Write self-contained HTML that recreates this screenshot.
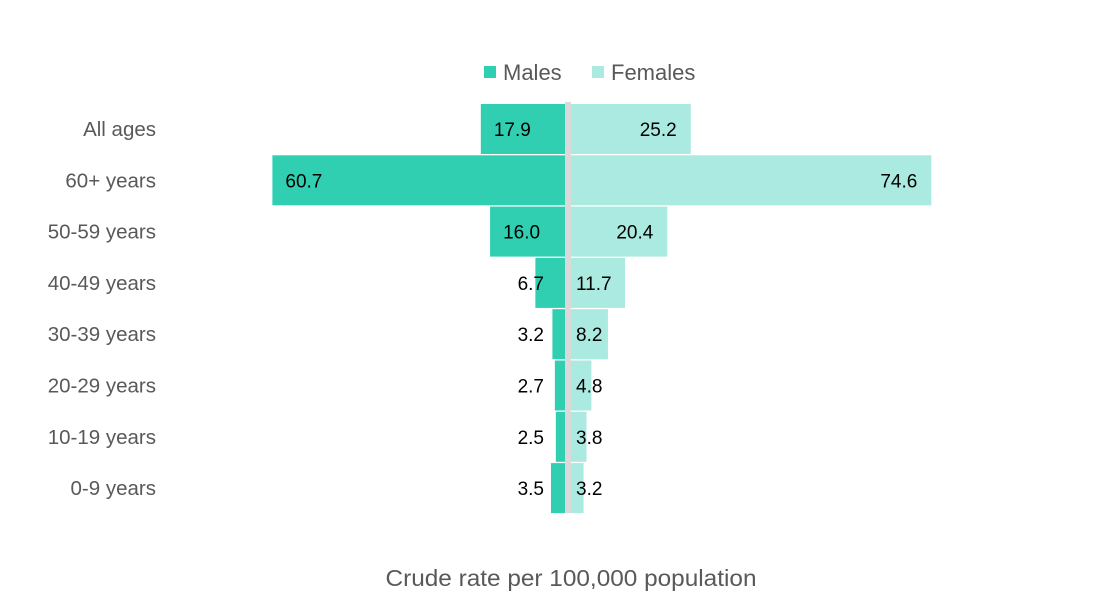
<!DOCTYPE html>
<html><head><meta charset="utf-8"><style>
body{margin:0;background:#fff;}
svg{display:block;font-family:"Liberation Sans",Calibri,sans-serif;}
</style></head><body>
<svg id="chart" width="1108" height="607" viewBox="0 0 1108 607">
<g>
<rect x="484" y="66" width="12" height="12" fill="#30cfb1"/>
<text x="503" y="80" font-size="22" fill="#595959">Males</text>
<rect x="592" y="66" width="12" height="12" fill="#abeae0"/>
<text x="611" y="80" font-size="22" fill="#595959">Females</text>
</g>
<g id="bars"></g>
<text x="571" y="586" text-anchor="middle" font-size="23" textLength="371" lengthAdjust="spacingAndGlyphs" fill="#595959">Crude rate per 100,000 population</text>
</svg>
<script>
const categories=["All ages","60+ years","50-59 years","40-49 years","30-39 years","20-29 years","10-19 years","0-9 years"];
const males=[17.9,60.7,16.0,6.7,3.2,2.7,2.5,3.5];
const females=[25.2,74.6,20.4,11.7,8.2,4.8,3.8,3.2];
const cx=568, k=4.87, top0=104, step=51.3, bh=50;
const x=v=>v*k;
const NS="http://www.w3.org/2000/svg";
const g=document.getElementById('bars');
function mk(t,a){const e=document.createElementNS(NS,t);for(const n in a)e.setAttribute(n,a[n]);g.appendChild(e);return e;}
categories.forEach((c,i)=>{
  const y=top0+i*step, cy=y+bh/2+7;
  const wm=x(males[i]), wf=x(females[i]);
  const mb=mk('rect',{x:cx-wm,y:y,width:wm,height:bh,fill:'#30cfb1'});
  
  
  const fb=mk('rect',{x:cx,y:y,width:wf,height:bh,fill:'#abeae0'});
  
  
  const cl=mk('text',{x:156,y:cy,'text-anchor':'end','font-size':20.5,fill:'#595959'});
  cl.textContent=c;
  
  
  const ml=wm>50?mk('text',{x:cx-wm+13,y:cy,'font-size':19,fill:'#000'}):mk('text',{x:544,y:cy,'text-anchor':'end','font-size':19,fill:'#000'});
  ml.textContent=males[i].toFixed(1);
  
  
  const fl=wf>70?mk('text',{x:cx+wf-14,y:cy,'text-anchor':'end','font-size':19,fill:'#000'}):mk('text',{x:576,y:cy,'font-size':19,fill:'#000'});
  fl.textContent=females[i].toFixed(1);
  
  
});
const ax=mk('rect',{x:cx-3,y:102,width:6,height:411,fill:'#d9d9d9'});


</script>
</body></html>
